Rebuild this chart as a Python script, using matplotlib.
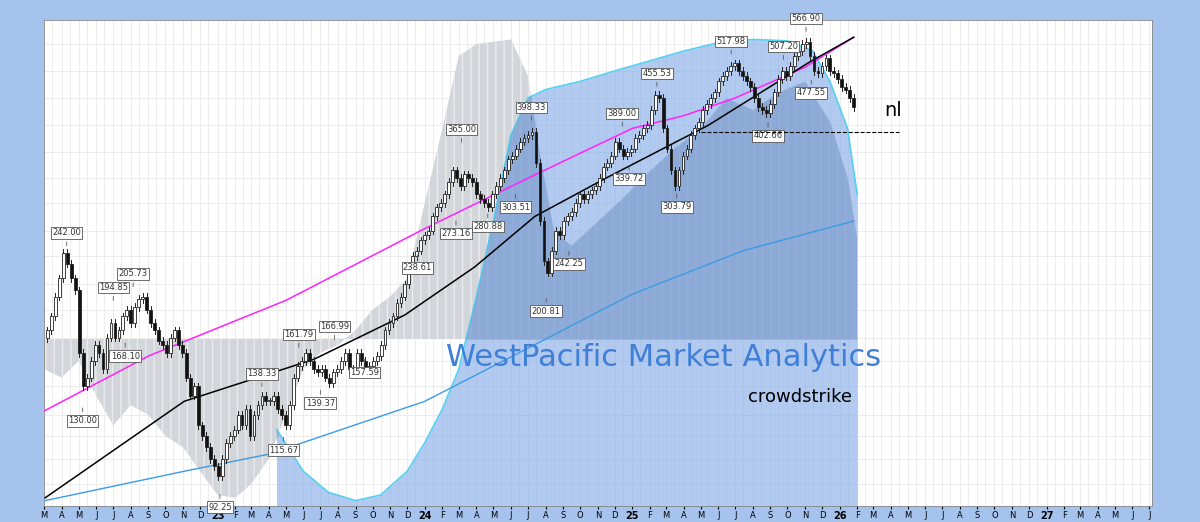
import matplotlib
matplotlib.use("Agg")
import matplotlib.pyplot as plt
import matplotlib.dates as mdates
import pandas as pd

# weekly closes, starting week of 2022-03-07
closes = [
    175, 185, 200, 215,
    238, 228, 215, 205,
    160, 140, 145, 155, 165,
    160, 150, 170, 180,
    170, 175, 185, 190,
    180, 192, 198, 200, 190,
    180, 175, 168, 165,
    160, 170, 175, 165, 160,
    145, 135, 140, 120,
    115, 110, 105, 102,
    98, 105, 112, 115, 118,
    125, 120, 128, 115,
    125, 130, 135, 132,
    132, 135, 128, 125,
    120, 130, 145, 152, 155,
    160, 155, 150, 148,
    150, 145, 142, 148, 150,
    155, 160, 150, 148,
    160, 155, 150, 152,
    155, 158, 165, 175, 180,
    185, 195, 200, 210,
    225, 235, 240, 250,
    255, 260, 275, 285, 290,
    300, 315, 330, 320,
    310, 325, 320, 315,
    300, 295, 290, 285, 300,
    310, 320, 330, 345,
    350, 360, 370, 375,
    380, 385, 340, 270, 230,
    220, 240, 260, 255,
    270, 275, 280, 290, 300,
    295, 300, 305, 310,
    320, 335, 340, 350,
    370, 360, 350, 355, 360,
    375, 380, 390, 395,
    420, 445, 440, 390,
    360, 330, 310, 330, 350,
    360, 380, 390, 400,
    420, 430, 440, 450,
    470, 480, 490, 500, 505,
    490, 480, 470, 460,
    440, 425, 420, 415,
    430, 450, 475, 490, 480,
    500, 520, 530, 545,
    550, 520, 490, 485,
    500, 515, 490, 485, 475,
    460, 455, 440, 425,
]
weeks = pd.date_range("2022-03-07", periods=len(closes), freq="7D")

gray_dates = pd.to_datetime([
    "2022-03-01", "2022-04-01", "2022-05-01", "2022-06-01", "2022-07-01", "2022-08-01",
    "2022-09-01", "2022-10-01", "2022-11-01", "2022-12-01", "2023-01-01", "2023-02-01",
    "2023-03-01", "2023-04-01", "2023-05-01", "2023-06-01", "2023-07-01", "2023-08-01",
    "2023-09-01", "2023-10-01", "2023-11-01", "2023-12-01", "2024-01-01", "2024-02-01",
    "2024-03-01", "2024-04-01", "2024-05-01", "2024-06-01", "2024-07-01", "2024-07-20",
    "2024-08-15", "2024-09-15", "2024-11-01", "2024-12-15", "2025-02-01", "2025-03-15",
    "2025-05-01", "2025-06-15", "2025-08-01", "2025-09-15", "2025-11-01", "2025-12-15",
    "2026-01-15", "2026-02-01"])
gray_level = [150, 145, 155, 135, 120, 130, 125, 115, 110, 100, 91, 90, 95, 105, 125,
              150, 160, 165, 175, 190, 200, 215, 290, 390, 520, 545, 550, 555, 480, 360,
              260, 245, 270, 296, 330, 360, 390, 440, 420, 450, 470, 400, 320, 250]
gray_base = 169

blue_dates = pd.to_datetime([
    "2023-04-15", "2023-06-01", "2023-07-15", "2023-09-01", "2023-10-15", "2023-12-01",
    "2024-01-01", "2024-02-01", "2024-03-01", "2024-04-01", "2024-05-01", "2024-06-01",
    "2024-07-01", "2024-08-01", "2024-10-01", "2024-12-01", "2025-02-01", "2025-04-01",
    "2025-06-01", "2025-08-01", "2025-10-01", "2025-11-15", "2025-12-15", "2026-01-15",
    "2026-02-01"])
blue_upper = [118, 100, 92, 89, 91, 100, 112, 128, 150, 200, 270, 380, 440, 455, 470,
              490, 510, 530, 548, 555, 552, 530, 470, 390, 300]

ma_magenta_dates = pd.to_datetime(["2022-03-01", "2022-09-01", "2023-05-01", "2024-01-01",
                                   "2024-07-15", "2025-01-01", "2025-04-01", "2025-07-01",
                                   "2025-11-01", "2026-01-26"])
ma_magenta = [127, 158, 197, 262, 325, 390, 410, 440, 497, 560]

ma_black_dates = pd.to_datetime(["2022-03-03", "2022-11-03", "2023-06-20", "2023-11-27",
                                 "2024-03-29", "2024-07-13", "2024-11-15", "2025-05-15",
                                 "2025-11-10", "2026-01-26"])
ma_black = [90, 132, 156, 186, 225, 275, 320, 395, 508, 560]

ma_blue_dates = pd.to_datetime(["2022-03-03", "2022-11-03", "2023-04-01", "2024-01-01",
                                "2024-07-01", "2025-01-01", "2025-07-15", "2026-01-26"])
ma_blue = [89, 100, 107, 132, 163, 202, 240, 270]

label_dates = pd.to_datetime([
    "2022-04-10", "2022-05-08", "2022-07-01", "2022-07-22", "2022-08-05", "2023-01-05",
    "2023-03-20", "2023-04-27", "2023-05-24", "2023-07-01", "2023-07-26", "2023-09-17",
    "2023-12-19", "2024-02-25", "2024-03-06", "2024-04-21", "2024-06-09", "2024-07-07",
    "2024-08-02", "2024-09-11", "2024-12-14", "2024-12-26", "2025-02-13", "2025-03-20",
    "2025-06-24", "2025-08-28", "2025-09-24", "2025-11-03", "2025-11-12"])
label_values = [242.00, 130.00, 194.85, 168.10, 205.73, 92.25, 138.33, 115.67, 161.79,
                139.37, 166.99, 157.59, 238.61, 273.16, 365.00, 280.88, 303.51, 398.33,
                200.81, 242.25, 389.00, 339.72, 455.53, 303.79, 517.98, 402.66, 507.20,
                566.90, 477.55]
label_up = [1, 0, 1, 0, 1, 0, 1, 0, 1, 0, 1, 0, 0, 0, 1, 0, 0, 1, 0, 0, 1, 0, 1, 0,
            1, 0, 1, 1, 0]

nl_level = 385

fig = plt.figure(figsize=(12, 5.22), dpi=100)
fig.patch.set_facecolor("#a6c3ee")
ax = fig.add_axes([0.0367, 0.03, 0.923, 0.932])
ax.set_facecolor("white")
ax.set_yscale("log")
ax.set_ylim(87, 600)
ax.set_xlim(pd.Timestamp("2022-03-01"), pd.Timestamp("2027-07-05"))

# grid
for m in pd.date_range("2022-03-01", "2027-07-01", freq="SMS"):
    ax.axvline(m, color="#ececec", lw=0.7, zorder=0)
for p in [95, 105, 115, 125, 140, 155, 170, 190, 210, 235, 260, 290, 320, 355, 395, 440, 490, 545]:
    ax.axhline(p, color="#ececec", lw=0.7, zorder=0)

# gray histogram band
ax.fill_between(gray_dates, gray_base, gray_level, color="#d2d5da",
                hatch="||", edgecolor="#e9ebee", lw=0, zorder=1)
# blue area over it
blue_poly = ax.fill_between(blue_dates, 80, blue_upper, color="#7fa8e6", alpha=0.6,
                            lw=0, zorder=2)
ax.plot(blue_dates, blue_upper, color="#55d0f0", lw=1.2, zorder=2)
# where gray and blue overlap it reads darker
dark = ax.fill_between(gray_dates, gray_base, gray_level, color="#5f7fb8", alpha=0.28,
                       lw=0, zorder=2.5)
dark.set_clip_path(blue_poly.get_paths()[0], ax.transData)

# moving averages
ax.plot(ma_magenta_dates, ma_magenta, color="#ff22ff", lw=1.1, zorder=3)
ax.plot(ma_black_dates, ma_black, color="black", lw=1.1, zorder=3)
ax.plot(ma_blue_dates, ma_blue, color="#3a9be8", lw=1.0, zorder=3)

# candles
opens = [closes[0] * 0.97] + closes[:-1]
xs = mdates.date2num(weeks)
for x, o, c in zip(xs, opens, closes):
    hi = max(o, c) * 1.015
    lo = min(o, c) * 0.985
    ax.plot([x, x], [lo, hi], color="#222222", lw=0.7, zorder=4)
    up = c >= o
    ax.bar(x, abs(c - o) or 0.5, bottom=min(o, c), width=5,
           color="white" if up else "#111111", edgecolor="#222222", lw=0.6, zorder=5)

# price labels
for d, v, u in zip(label_dates, label_values, label_up):
    ax.annotate(f"{v:.2f}", (d, v), xytext=(0, 8 if u else -8), textcoords="offset points",
                ha="center", va="bottom" if u else "top", fontsize=6, color="#333333",
                bbox=dict(boxstyle="square,pad=0.15", fc="white", ec="#555555", lw=0.6),
                arrowprops=dict(arrowstyle="-", color="#555555", lw=0.6), zorder=6)

# nl line
ax.plot([pd.Timestamp("2025-05-01"), pd.Timestamp("2026-04-15")], [nl_level, nl_level],
        color="black", ls="--", lw=0.8, zorder=6)
ax.text(pd.Timestamp("2026-03-20"), 410, "nl", fontsize=14, color="black", zorder=6)

fig.text(0.553, 0.316, "WestPacific Market Analytics", fontsize=22, color="#3f7fd8",
         ha="center", va="center", zorder=10)
fig.text(0.667, 0.24, "crowdstrike", fontsize=13, color="black", ha="center", va="center")

# ticks
months = pd.date_range("2022-03-01", "2027-07-01", freq="MS")
labels = [m.strftime("%y") if m.month == 1 else m.strftime("%b")[0] for m in months]
ax.set_xticks(months)
ax.set_xticklabels(labels, fontsize=6)
for t, m in zip(ax.get_xticklabels(), months):
    if m.month == 1:
        t.set_fontweight("bold")
        t.set_fontsize(7)
ax.tick_params(axis="x", length=2, pad=1)
ax.set_yticks([])
ax.yaxis.set_minor_locator(matplotlib.ticker.NullLocator())
for s in ax.spines.values():
    s.set_color("#888888")
    s.set_linewidth(0.6)

fig.savefig("out.png", dpi=100, facecolor=fig.get_facecolor())
